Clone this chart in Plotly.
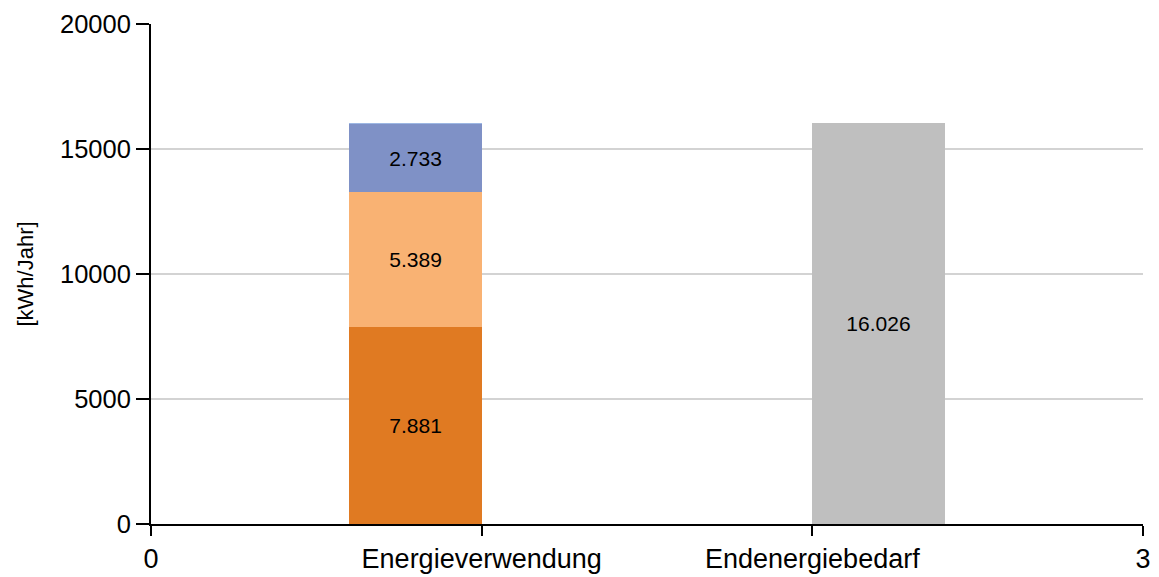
import plotly.graph_objects as go

categories = ["Energieverwendung", "Endenergiebedarf"]
x_tick_vals = [0, 1, 2, 3]
x_tick_text = ["0", "Energieverwendung", "Endenergiebedarf", "3"]

# stacked components of "Energieverwendung" (bottom to top)
stack_values = [7881, 5389, 2733, 23]
stack_colors = ["#E07A22", "#F9B273", "#7F91C6", "#9DB7E3"]
stack_show_label = [True, True, True, False]

# "Endenergiebedarf"
total_value = 16026
total_color = "#BFBFBF"

label_font = dict(size=21, color="black", family="Liberation Sans")

fig = go.Figure()
for v, c, lab in zip(stack_values, stack_colors, stack_show_label):
    fig.add_trace(go.Bar(
        x=[1], y=[v], width=0.4, offset=-0.4,
        marker=dict(color=c, line=dict(width=0)),
        texttemplate="%{y:,}" if lab else "",
        textposition="inside", insidetextanchor="middle",
        textfont=label_font,
        showlegend=False, hoverinfo="y",
    ))

fig.add_trace(go.Bar(
    x=[2], y=[total_value], width=0.4, offset=0,
    marker=dict(color=total_color, line=dict(width=0)),
    texttemplate="%{y:,}",
    textposition="inside", insidetextanchor="middle",
    textfont=label_font,
    showlegend=False, hoverinfo="y",
))

fig.update_layout(
    width=1159, height=577,
    margin=dict(l=151, r=16, t=24, b=53, autoexpand=False),
    barmode="stack",
    separators=",.",
    plot_bgcolor="white", paper_bgcolor="white",
    font=dict(family="Liberation Sans", color="black", size=26),
)
fig.update_xaxes(
    range=[0, 3], tickmode="array", tickvals=x_tick_vals, ticktext=x_tick_text,
    showgrid=False, zeroline=False, automargin=False,
    showline=True, linecolor="black", linewidth=2,
    ticks="outside", ticklen=10, tickwidth=2, tickcolor="black",
    tickfont=dict(size=27),
)
fig.update_yaxes(
    range=[0, 20000], dtick=5000, tick0=0, tickformat="d",
    showgrid=True, gridcolor="#D3D3D3", gridwidth=2,
    zeroline=False, automargin=False,
    showline=True, linecolor="black", linewidth=2,
    ticks="outside", ticklen=13, tickwidth=2, tickcolor="black",
    tickfont=dict(size=25.5),
    title=dict(text="[kWh/Jahr]", font=dict(size=22), standoff=20),
)

fig.write_html("out.html")
